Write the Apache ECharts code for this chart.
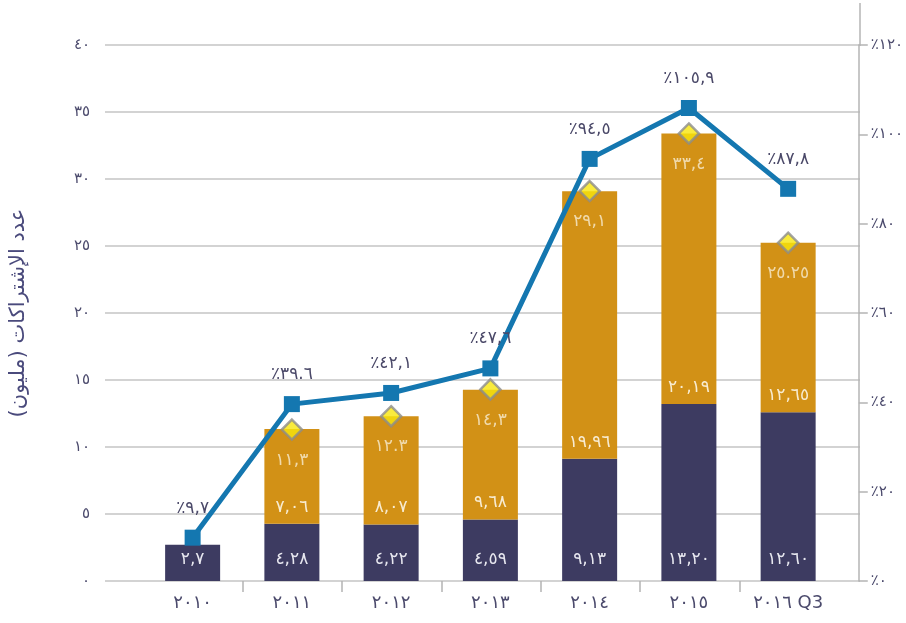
<!DOCTYPE html>
<html>
<head>
<meta charset="utf-8">
<script src="https://cdn.jsdelivr.net/npm/echarts@6/dist/echarts.min.js"></script>
<style>
html,body{margin:0;padding:0;background:#fff;}
#chart{width:906px;height:623px;}
</style>
</head>
<body>
<div id="chart"></div>
<script>
const categories = ['٢٠١٠','٢٠١١','٢٠١٢','٢٠١٣','٢٠١٤','٢٠١٥','٢٠١٦ Q3'];
const darkValues = [2.7, 4.28, 4.22, 4.59, 9.13, 13.20, 12.60];
const darkLabels = ['٢,٧','٤,٢٨','٤,٢٢','٤,٥٩','٩,١٣','١٣,٢٠','١٢,٦٠'];
const orangeValues = [null, 7.06, 8.07, 9.68, 19.96, 20.19, 12.65];
const orangeLabels = ['', '٧,٠٦','٨,٠٧','٩,٦٨','١٩,٩٦','٢٠,١٩','١٢,٦٥'];
const totalValues = [null, 11.3, 12.3, 14.3, 29.1, 33.4, 25.25];
const totalLabels = ['', '١١,٣','١٢.٣','١٤,٣','٢٩,١','٣٣,٤','٢٥.٢٥'];
const growthValues = [9.7, 39.6, 42.1, 47.6, 94.5, 105.9, 87.8];
const growthLabels = ['٪٩,٧','٪٣٩.٦','٪٤٢,١','٪٤٧,٦','٪٩٤,٥','٪١٠٥,٩','٪٨٧,٨'];
const leftTicks = ['٠','٥','١٠','١٥','٢٠','٢٥','٣٠','٣٥','٤٠'];
const rightTicks = ['٪٠','٪٢٠','٪٤٠','٪٦٠','٪٨٠','٪١٠٠','٪١٢٠'];
const yAxisTitle = 'عدد الإشتراكات (مليون)';

const FONT = "'DejaVu Sans', sans-serif";
const AXIS_TXT = '#4b4a6c';

const chart = echarts.init(document.getElementById('chart'), null, {renderer: 'canvas'});
chart.setOption({
  animation: false,
  backgroundColor: '#ffffff',
  textStyle: {fontFamily: FONT},
  grid: [
    {left: 143, right: 67, top: 45, bottom: 42},
    {left: 103, right: 46, top: 45, bottom: 42},
    {left: 242.4, right: 166.4, top: 45, bottom: 42}
  ],
  xAxis: [
    {type: 'category', gridIndex: 0, data: categories,
     axisLine: {show: false}, axisTick: {show: false}, splitLine: {show: false},
     axisLabel: {color: AXIS_TXT, fontSize: 18, margin: 13, fontFamily: FONT}},
    {type: 'value', gridIndex: 1, min: 0, max: 1, show: false},
    {type: 'value', gridIndex: 2, min: 0, max: 5, interval: 1,
     axisLine: {show: false}, axisLabel: {show: false}, splitLine: {show: false},
     axisTick: {show: true, length: 11, lineStyle: {color: '#b4b4b4', width: 1.5}}}
  ],
  yAxis: [
    {type: 'value', gridIndex: 0, min: 0, max: 40, interval: 5, show: false},
    {type: 'value', gridIndex: 0, position: 'right', offset: 21, min: 0, max: 120, interval: 20,
     axisLine: {show: true, lineStyle: {color: '#b4b4b4', width: 1.5}},
     axisTick: {show: true, length: 9, lineStyle: {color: '#b4b4b4', width: 1.5}},
     splitLine: {show: false},
     axisLabel: {margin: 12, color: AXIS_TXT, fontSize: 15, fontFamily: FONT,
       formatter: v => rightTicks[Math.round(v / 20)]}},
    {type: 'value', gridIndex: 1, min: 0, max: 40, interval: 5,
     axisLine: {show: false}, axisTick: {show: false},
     splitLine: {show: true, lineStyle: {color: '#c4c4c4', width: 1.5}},
     axisLabel: {margin: 15, color: AXIS_TXT, fontSize: 15, fontFamily: FONT,
       formatter: v => leftTicks[Math.round(v / 5)]},
     name: yAxisTitle, nameLocation: 'middle', nameGap: 76,
     nameTextStyle: {color: '#4a4a7c', fontSize: 21, fontFamily: FONT}},
    {type: 'value', gridIndex: 2, min: 0, max: 40, show: false}
  ],
  graphic: [
    {type: 'line', shape: {x1: 860, y1: 3, x2: 860, y2: 46},
     style: {stroke: '#b4b4b4', lineWidth: 1.5}, z: 1}
  ],
  series: [
    {type: 'bar', name: 'dark', xAxisIndex: 0, yAxisIndex: 0, stack: 's', barWidth: 55,
     data: darkValues, itemStyle: {color: '#3d3b61'}, z: 2,
     label: {show: true, position: 'insideBottom', distance: 13, color: '#e8e8f0', fontSize: 17,
       fontFamily: FONT, formatter: p => darkLabels[p.dataIndex]}},
    {type: 'bar', name: 'orange', xAxisIndex: 0, yAxisIndex: 0, stack: 's', barWidth: 55,
     data: orangeValues, itemStyle: {color: '#d29116'}, z: 2,
     label: {show: true, position: 'insideBottom', distance: 8, color: '#f8ecd2', fontSize: 17,
       fontFamily: FONT, formatter: p => orangeLabels[p.dataIndex]}},
    {type: 'scatter', name: 'total', xAxisIndex: 0, yAxisIndex: 0, data: totalValues,
     symbol: 'diamond', symbolSize: 20, z: 4,
     itemStyle: {color: '#f8e60c', borderColor: '#8c8c8c', borderWidth: 2.5},
     label: {show: true, position: 'bottom', distance: 11, color: '#f8ecd2', fontSize: 17,
       fontFamily: FONT, formatter: p => totalLabels[p.dataIndex]}},
    {type: 'line', name: 'growth', xAxisIndex: 0, yAxisIndex: 1, data: growthValues,
     symbol: 'rect', symbolSize: 16, showAllSymbol: true, z: 5,
     lineStyle: {color: '#1477b0', width: 5},
     itemStyle: {color: '#1477b0'},
     label: {show: true, position: 'top', distance: 13, color: '#4a4868', fontSize: 17,
       fontFamily: FONT, formatter: p => growthLabels[p.dataIndex]}}
  ]
});
</script>
</body>
</html>
